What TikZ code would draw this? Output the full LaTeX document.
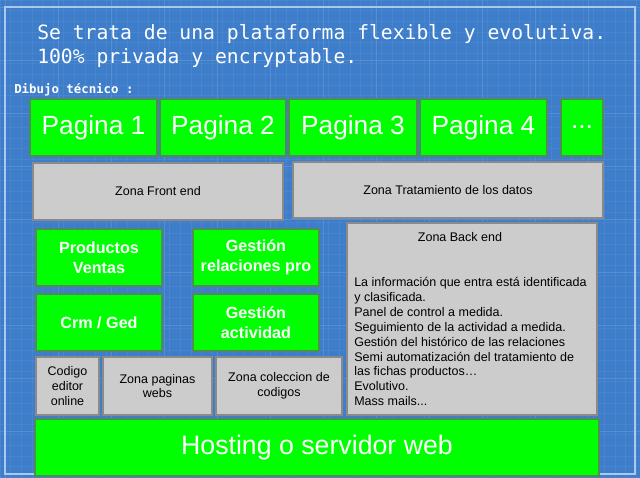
\documentclass[tikz,border=0pt]{standalone}
\usepackage{fontspec}
\setmainfont{Liberation Sans}
\newfontfamily\blueprintmono{DejaVu Sans Mono}
\usetikzlibrary{positioning}
\definecolor{blueprint}{HTML}{3D7DCA}
\definecolor{gridline}{HTML}{6A9BD8}
\definecolor{framelight}{HTML}{A9C8EE}
\definecolor{pagegreen}{HTML}{00FF00}
\definecolor{greenedge}{HTML}{4E8E56}
\definecolor{zonegrey}{HTML}{CCCCCC}
\definecolor{greyedge}{HTML}{8A8A8A}
\newcommand{\fsz}[2]{\fontsize{#1pt}{#2pt}\selectfont}

\tikzset{
  boxsize/.style 2 args={minimum width=#1*0.025cm, minimum height=#2*0.025cm},
  greenbox/.style={draw=greenedge, line width=0.8pt, fill=pagegreen, text=white, inner sep=0pt},
  pagebox/.style={greenbox, font=\fsz{18.7}{22}},
  modbox/.style={greenbox, font=\bfseries\fsz{11.5}{14.2}, align=center},
  zonebox/.style={draw=greyedge, line width=0.8pt, fill=zonegrey, text=black, inner sep=0pt,
    font=\fsz{8.9}{10.4}, align=center}
}

\begin{document}
\begin{tikzpicture}[x=0.025cm, y=-0.025cm]
    \useasboundingbox (0,0) rectangle (640,478);
    % Blueprint background
    \fill[blueprint] (0,0) rectangle (640,478);
    \foreach \gx in {0,10.6,...,640}
        \draw[gridline, opacity=0.25, line width=0.3pt] (\gx,0) -- (\gx,478);
    \foreach \gy in {0,10.6,...,478}
        \draw[gridline, opacity=0.25, line width=0.3pt] (0,\gy) -- (640,\gy);
    \foreach \gx in {5,58,...,640}
        \draw[gridline, opacity=0.55, line width=0.4pt] (\gx,0) -- (\gx,478);
    \foreach \gy in {7,60,...,478}
        \draw[gridline, opacity=0.55, line width=0.4pt] (0,\gy) -- (640,\gy);
    \draw[framelight, line width=1.1pt] (5,7) rectangle (635,474);

    % Heading
    \node[anchor=north west, inner sep=0pt, text=white, align=left,
          font=\blueprintmono\fsz{14}{17}] (title) at (37,24.5)
          {Se trata de una plataforma flexible y evolutiva.\\100\% privada y encryptable.};
    \node[anchor=base west, inner sep=0pt, text=white,
          font=\blueprintmono\bfseries\fsz{8.8}{10}] (drawing) at (14,94) {Dibujo técnico :};

    % Pages
    \node[pagebox, boxsize={127}{57}] (pag1) at (93.5,127.5) {Pagina 1};
    \node[pagebox, boxsize={126}{57}] (pag2) at (223,127.5) {Pagina 2};
    \node[pagebox, boxsize={128}{57}] (pag3) at (353,127.5) {Pagina 3};
    \node[pagebox, boxsize={127}{57}] (pag4) at (483.5,127.5) {Pagina 4};
    \node[pagebox, boxsize={42}{57}] (more) at (582,127.5) {...};

    % Zones
    \node[zonebox, boxsize={250}{57}] (front) at (158,191.5) {Zona Front end};
    \node[zonebox, boxsize={310}{56}] (data) at (448,190) {Zona Tratamiento de los datos};

    % Modules
    \node[modbox, boxsize={126}{57}] (sales) at (99,257.5) {Productos\\Ventas};
    \node[modbox, boxsize={126}{57}] (relations) at (256,257.5) {Gestión\\relaciones pro};
    \node[modbox, boxsize={126}{57}] (crm) at (99,322.5) {Crm / Ged};
    \node[modbox, boxsize={126}{57}] (activity) at (256,322.5) {Gestión\\actividad};

    \node[zonebox, boxsize={63}{58}] (editor) at (67.5,386) {Codigo\\editor\\online};
    \node[zonebox, boxsize={109}{58}] (webs) at (157.5,386) {Zona paginas\\webs};
    \node[zonebox, boxsize={126}{58}] (codes) at (279,386) {Zona coleccion de\\codigos};

    % Back end
    \node[zonebox, boxsize={250}{192}] (back) at (472,319) {};
    \node[font=\fsz{8.9}{10.4}, inner sep=0pt] (backtitle) at (460,237) {Zona Back end};
    \node[anchor=north west, inner sep=0pt, align=left, font=\fsz{8.9}{10.6}] (backtext) at (354,277)
        {La información que entra está identificada\\y clasificada.\\Panel de control a medida.\\
         Seguimiento de la actividad a medida.\\Gestión del histórico de las relaciones\\
         Semi automatización del tratamiento de\\las fichas productos…\\Evolutivo.\\Mass mails...};

    % Hosting
    \node[greenbox, boxsize={564}{57}, font=\fsz{19}{22}] (host) at (317,447.5) {Hosting o servidor web};
\end{tikzpicture}
\end{document}
